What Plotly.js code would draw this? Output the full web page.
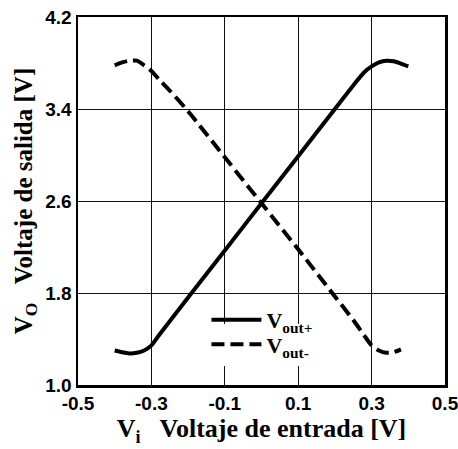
<!DOCTYPE html>
<html>
<head>
<meta charset="utf-8">
<script src="https://cdn.plot.ly/plotly-3.0.1.min.js"></script>
<style>html,body{margin:0;padding:0;background:#fff;}#chart{width:458px;height:449px;}</style>
</head>
<body>
<div id="chart"></div>
<script>
// Input voltage (V) samples and outputs
const vinPlus = [-0.40, -0.38, -0.36, -0.34, -0.32, -0.30, -0.28, -0.25, -0.20, -0.10, 0.00, 0.10, 0.20, 0.25, 0.28, 0.30, 0.32, 0.34, 0.36, 0.38, 0.40];
const voutPlus = [1.30, 1.285, 1.275, 1.28, 1.30, 1.345, 1.43, 1.555, 1.76, 2.17, 2.58, 2.99, 3.40, 3.605, 3.72, 3.77, 3.805, 3.82, 3.815, 3.795, 3.77];
const vinMinus = [-0.40, -0.38, -0.36, -0.34, -0.32, -0.30, -0.28, -0.25, -0.20, -0.10, 0.00, 0.10, 0.20, 0.25, 0.28, 0.30, 0.32, 0.34, 0.36, 0.38];
const voutMinus = [3.78, 3.805, 3.82, 3.82, 3.78, 3.73, 3.66, 3.56, 3.38, 2.98, 2.58, 2.18, 1.77, 1.565, 1.43, 1.345, 1.30, 1.28, 1.285, 1.31];
const xTicks = [-0.5, -0.3, -0.1, 0.1, 0.3, 0.5];
const yTicks = [1.0, 1.8, 2.6, 3.4, 4.2];
const names = ['V<sub>out+</sub>', 'V<sub>out-</sub>'];

const tickFont = {family: 'Liberation Sans, Arial, sans-serif', size: 19, color: '#000', weight: 'bold'};
const xTitleFont = {family: 'Liberation Serif, Times New Roman, serif', size: 26, color: '#000', weight: 'bold'};
const yTitleFont = {family: 'Liberation Serif, Times New Roman, serif', size: 25, color: '#000', weight: 'bold'};
const legFont = {family: 'Liberation Serif, Times New Roman, serif', size: 22, color: '#000', weight: 'bold'};

// Vout- uses the first legend (white box), Vout+ the second (transparent, drawn on top)
const data = [
  {x: vinPlus, y: voutPlus, mode: 'lines', name: names[0], legend: 'legend2',
   line: {color: '#000', width: 4, shape: 'spline', smoothing: 0.8}},
  {x: vinMinus, y: voutMinus, mode: 'lines', name: names[1], legend: 'legend',
   line: {color: '#000', width: 4, dash: '13px,6px', shape: 'spline', smoothing: 0.8}}
];

const legBase = {borderwidth: 0, font: legFont, xanchor: 'left', yanchor: 'middle', itemwidth: 50, tracegroupgap: 0};

const layout = {
  width: 458, height: 449,
  margin: {l: 78, r: 13, t: 17, b: 64},
  paper_bgcolor: '#fff', plot_bgcolor: '#fff',
  showlegend: true,
  legend: Object.assign({}, legBase, {x: 0.35, y: 0.11, bgcolor: '#fff'}),
  legend2: Object.assign({}, legBase, {x: 0.35, y: 0.177, bgcolor: 'rgba(255,255,255,0)'}),
  xaxis: {
    range: [-0.5, 0.5], tickvals: xTicks, ticktext: xTicks.map(v => v.toFixed(1)),
    showgrid: true, gridcolor: '#111', gridwidth: 1,
    showline: true, linecolor: '#000', linewidth: 2.5, mirror: true,
    ticks: '', zeroline: false, tickfont: tickFont, ticklabeloverflow: 'allow',
    title: {text: 'V<sub>i</sub>   Voltaje de entrada [V]', font: xTitleFont, standoff: 6}
  },
  yaxis: {
    range: [1.0, 4.2], tickvals: yTicks, ticktext: yTicks.map(v => v.toFixed(1)),
    showgrid: true, gridcolor: '#111', gridwidth: 1,
    showline: true, linecolor: '#000', linewidth: 2.5, mirror: true,
    ticks: '', zeroline: false, tickfont: tickFont, ticklabeloverflow: 'allow',
    title: {text: 'V<sub>O</sub>   Voltaje de salida [V]', font: yTitleFont, standoff: 6}
  }
};

Plotly.newPlot('chart', data, layout, {displayModeBar: false, staticPlot: true});
</script>
</body>
</html>
